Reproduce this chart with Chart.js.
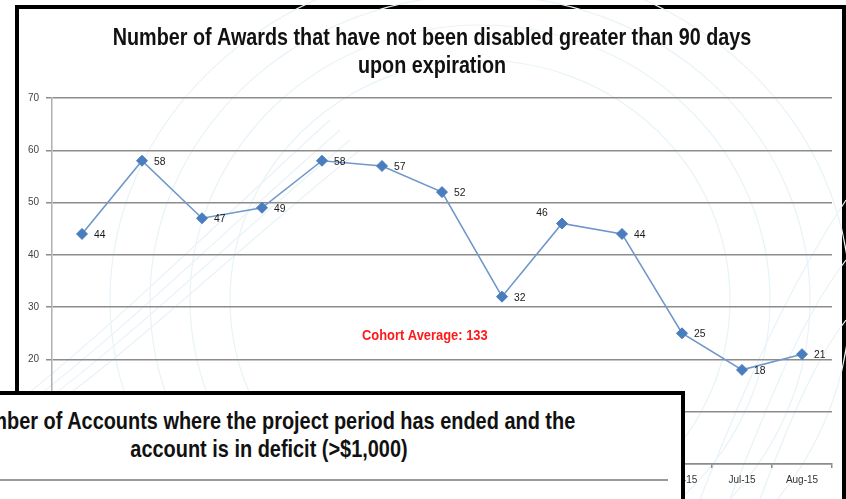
<!DOCTYPE html>
<html>
<head>
<meta charset="utf-8">
<script src="https://cdn.jsdelivr.net/npm/chart.js@4.4.1/dist/chart.umd.min.js"></script>
<style>
  html, body { margin: 0; padding: 0; width: 846px; height: 499px; overflow: hidden; background: #fff; }
  #mainBox { position: absolute; left: 15px; top: 5px; width: 831px; height: 560px; box-sizing: border-box; border: 4px solid #000; background: #fff; z-index: 1; }
  #deco { position: absolute; left: 0; top: 0; z-index: 2; }
  #chartWrap { position: absolute; left: 19px; top: 9px; width: 824px; height: 490px; z-index: 3; }
  #overlay { position: absolute; left: -150px; top: 391px; width: 835px; height: 200px; box-sizing: border-box; border: 4px solid #000; background: #fff; z-index: 4; }
  #overlayTitle { position: absolute; left: -231px; top: 407px; width: 1000px; text-align: center; z-index: 5;
    transform: scaleX(0.83); transform-origin: 500px 0;
    font-family: 'Liberation Sans', Arial, sans-serif; font-weight: bold; font-size: 24px; line-height: 28px; color: #111; white-space: nowrap; }
  #overlayRule { position: absolute; left: 0; top: 479px; width: 668px; height: 0; border-top: 2px solid #9a9a9a; z-index: 5; }
</style>
</head>
<body>
<div id="mainBox"></div>
<svg id="deco" width="846" height="499" viewBox="0 0 846 499">
  <g fill="none" stroke="#e8f3f8" stroke-width="1.2">
    <ellipse cx="480" cy="300" rx="250" ry="240"/>
    <ellipse cx="480" cy="300" rx="290" ry="275"/>
    <ellipse cx="480" cy="300" rx="330" ry="305"/>
    <ellipse cx="480" cy="300" rx="370" ry="335"/>
    <path d="M20 400 C 120 320, 220 220, 330 120"/>
    <path d="M20 410 C 125 330, 225 230, 340 130"/>
    <path d="M20 420 C 130 340, 230 240, 350 140"/>
    <path d="M20 430 C 135 350, 235 250, 360 150"/>
    <path d="M700 499 C 740 400, 780 300, 846 200"/>
    <path d="M730 499 C 770 400, 800 320, 846 260"/>
    <path d="M760 499 C 790 420, 815 360, 846 320"/>
  </g>
</svg>
<div id="chartWrap"><canvas id="c" width="824" height="490"></canvas></div>
<div id="overlay"></div>
<div id="overlayTitle">Number of Accounts where the project period has ended and the<br>account is in deficit (&gt;$1,000)</div>
<div id="overlayRule"></div>
<script>
const categories = ['Aug-14','Sep-14','Oct-14','Nov-14','Dec-14','Jan-15','Feb-15','Mar-15','Apr-15','May-15','Jun-15','Jul-15','Aug-15'];
const awards = [44, 58, 47, 49, 58, 57, 52, 32, 46, 44, 25, 18, 21];
const yTicks = [0, 10, 20, 30, 40, 50, 60, 70];
const titleLines = ['Number of Awards that have not been disabled greater than 90 days', 'upon expiration'];
const cohortNote = 'Cohort Average: 133';
const labelSides = ['r','r','r','r','r','r','r','r','tl','r','r','r','r'];

const SANS = "'Liberation Sans', Arial, sans-serif";

function drawSqueezed(ctx, text, x, y, sx) {
  ctx.save();
  ctx.translate(x, y);
  ctx.scale(sx, 1);
  ctx.fillText(text, 0, 0);
  ctx.restore();
}

const customText = {
  id: 'customText',
  afterDatasetsDraw(chart) {
    const ctx = chart.ctx;
    const meta = chart.getDatasetMeta(0);
    ctx.save();
    ctx.font = '11.5px ' + SANS;
    ctx.fillStyle = '#1a1a1a';
    ctx.textBaseline = 'middle';
    meta.data.forEach((pt, i) => {
      const v = chart.data.datasets[0].data[i];
      if (labelSides[i] === 'tl') {
        ctx.textAlign = 'center';
        drawSqueezed(ctx, String(v), pt.x - 20, pt.y - 11, 0.9);
      } else {
        ctx.textAlign = 'left';
        drawSqueezed(ctx, String(v), pt.x + 12, pt.y + 1, 0.9);
      }
    });
    const a = chart.chartArea;
    ctx.font = 'bold 15px ' + SANS;
    ctx.fillStyle = '#ff1a1a';
    ctx.textAlign = 'center';
    drawSqueezed(ctx, cohortNote, a.left + (a.right - a.left) * 0.478, a.top + (a.bottom - a.top) * 0.651, 0.86);
    ctx.restore();
  },
  afterDraw(chart) {
    const ctx = chart.ctx;
    const tb = chart.titleBlock;
    const opts = chart.options.plugins.title;
    const lh = opts.font.size * opts.font.lineHeight;
    ctx.save();
    ctx.font = 'bold ' + opts.font.size + 'px ' + SANS;
    ctx.fillStyle = '#111';
    ctx.textAlign = 'center';
    ctx.textBaseline = 'middle';
    const cx = chart.width / 2 + 1;
    titleLines.forEach((t, i) => {
      drawSqueezed(ctx, t, cx, tb.top + opts.padding.top + lh * (i + 0.5), 0.823);
    });
    ctx.restore();
  }
};

new Chart(document.getElementById('c'), {
  type: 'line',
  data: {
    labels: categories,
    datasets: [{
      data: awards,
      borderColor: '#7097cb',
      borderWidth: 1.6,
      pointStyle: 'rectRot',
      pointRadius: 5.5,
      pointHoverRadius: 5.5,
      pointBackgroundColor: '#4a7dbd',
      pointBorderColor: '#4a7dbd',
      pointBorderWidth: 1,
      tension: 0,
      fill: false
    }]
  },
  options: {
    responsive: false,
    animation: false,
    events: [],
    layout: { padding: { left: 0, right: 11, top: 0, bottom: 0 } },
    plugins: {
      legend: { display: false },
      tooltip: { enabled: false },
      title: {
        display: true,
        text: titleLines,
        color: 'rgba(0,0,0,0)',
        font: { family: SANS, size: 24, weight: 'bold', lineHeight: 1.1667 },
        padding: { top: 15, bottom: 18 }
      }
    },
    scales: {
      x: {
        type: 'category',
        offset: true,
        grid: { offset: true, drawOnChartArea: false, drawTicks: true, tickLength: 4, color: '#8c8c8c', lineWidth: 1.5 },
        border: { color: '#8c8c8c', width: 1.5 },
        ticks: { color: '#333', font: { family: SANS, size: 10 }, padding: 6, maxRotation: 0, autoSkip: false },
        afterFit(s) { s.height = 35; }
      },
      y: {
        min: 0, max: 70,
        afterBuildTicks(s) { s.ticks = yTicks.map(v => ({ value: v })); },
        grid: { color: '#8c8c8c', lineWidth: 1.5, tickLength: 6, drawTicks: true },
        border: { color: '#b0b0b0', width: 1.5 },
        ticks: { color: '#444', font: { family: SANS, size: 10 }, padding: 7 },
        afterFit(s) { s.width = 33; }
      }
    }
  },
  plugins: [customText]
});
</script>
</body>
</html>
